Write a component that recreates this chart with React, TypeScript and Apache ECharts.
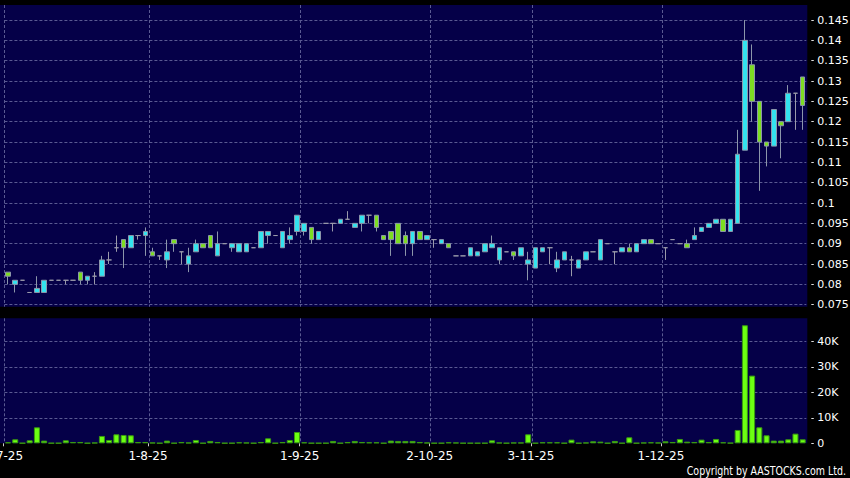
import React, { useEffect, useRef } from 'react';
import * as echarts from 'echarts';

// ---- data (one entry per traded session) ----
const openPx = [
  0.083, 0.080, 0.081, 0.078, 0.078, 0.078, 0.081, 0.081, 0.081, 0.081,
  0.083, 0.081, 0.082, 0.082, 0.086, 0.089, 0.091, 0.089, 0.092, 0.092,
  0.088, 0.087, 0.086, 0.091, 0.088, 0.085, 0.088, 0.090, 0.092, 0.087,
  0.090, 0.089, 0.088, 0.088, 0.089, 0.089, 0.092, 0.092, 0.089, 0.091,
  0.093, 0.093, 0.094, 0.091, 0.095, 0.095, 0.095, 0.096, 0.094, 0.095,
  0.097, 0.097, 0.092, 0.093, 0.095, 0.092, 0.090, 0.093, 0.091, 0.091,
  0.090, 0.090, 0.087, 0.087, 0.087, 0.087, 0.088, 0.089, 0.086, 0.088,
  0.088, 0.087, 0.085, 0.084, 0.088, 0.089, 0.084, 0.086, 0.086, 0.084,
  0.086, 0.088, 0.086, 0.090, 0.088, 0.088, 0.089, 0.088, 0.090, 0.091,
  0.090, 0.089, 0.091, 0.090, 0.090, 0.091, 0.093, 0.094, 0.095, 0.096,
  0.093, 0.095, 0.113, 0.134, 0.125, 0.115, 0.114, 0.120, 0.120, 0.127,
  0.131,
];
const closePx = [
  0.082, 0.081, 0.081, 0.078, 0.079, 0.081, 0.081, 0.081, 0.081, 0.081,
  0.081, 0.082, 0.082, 0.086, 0.086, 0.089, 0.089, 0.092, 0.092, 0.093,
  0.087, 0.087, 0.088, 0.090, 0.088, 0.087, 0.090, 0.089, 0.089, 0.090,
  0.090, 0.090, 0.090, 0.090, 0.089, 0.093, 0.093, 0.092, 0.093, 0.092,
  0.097, 0.095, 0.091, 0.093, 0.095, 0.095, 0.096, 0.096, 0.095, 0.097,
  0.097, 0.094, 0.091, 0.091, 0.090, 0.090, 0.093, 0.091, 0.092, 0.091,
  0.091, 0.089, 0.087, 0.087, 0.089, 0.088, 0.090, 0.090, 0.089, 0.088,
  0.087, 0.089, 0.086, 0.089, 0.089, 0.089, 0.086, 0.088, 0.086, 0.086,
  0.088, 0.088, 0.091, 0.090, 0.088, 0.089, 0.088, 0.090, 0.091, 0.090,
  0.090, 0.089, 0.091, 0.090, 0.089, 0.092, 0.094, 0.095, 0.096, 0.093,
  0.096, 0.112, 0.140, 0.125, 0.115, 0.114, 0.123, 0.119, 0.127, 0.127,
  0.124,
];
const lowPx = [
  0.080, 0.078, 0.081, 0.078, 0.078, 0.078, 0.081, 0.081, 0.080, 0.081,
  0.080, 0.080, 0.080, 0.082, 0.085, 0.088, 0.084, 0.089, 0.091, 0.087,
  0.087, 0.086, 0.084, 0.088, 0.085, 0.083, 0.088, 0.089, 0.089, 0.087,
  0.090, 0.088, 0.088, 0.088, 0.089, 0.089, 0.090, 0.092, 0.089, 0.090,
  0.092, 0.092, 0.090, 0.091, 0.095, 0.093, 0.095, 0.096, 0.094, 0.093,
  0.095, 0.093, 0.091, 0.087, 0.090, 0.087, 0.087, 0.091, 0.091, 0.089,
  0.090, 0.089, 0.087, 0.087, 0.087, 0.087, 0.088, 0.089, 0.085, 0.088,
  0.086, 0.087, 0.081, 0.084, 0.088, 0.085, 0.083, 0.086, 0.082, 0.084,
  0.086, 0.088, 0.086, 0.090, 0.085, 0.088, 0.088, 0.088, 0.090, 0.090,
  0.090, 0.086, 0.091, 0.090, 0.089, 0.091, 0.093, 0.094, 0.095, 0.093,
  0.093, 0.095, 0.113, 0.120, 0.103, 0.109, 0.114, 0.111, 0.120, 0.118,
  0.118,
];
const highPx = [
  0.083, 0.081, 0.081, 0.078, 0.082, 0.081, 0.081, 0.081, 0.081, 0.081,
  0.083, 0.082, 0.083, 0.087, 0.088, 0.092, 0.091, 0.092, 0.092, 0.094,
  0.089, 0.087, 0.091, 0.091, 0.088, 0.089, 0.091, 0.090, 0.092, 0.093,
  0.090, 0.090, 0.090, 0.090, 0.089, 0.093, 0.093, 0.092, 0.093, 0.094,
  0.097, 0.095, 0.094, 0.093, 0.095, 0.095, 0.096, 0.098, 0.095, 0.097,
  0.097, 0.097, 0.092, 0.093, 0.095, 0.093, 0.093, 0.093, 0.092, 0.091,
  0.091, 0.090, 0.087, 0.087, 0.089, 0.088, 0.090, 0.092, 0.089, 0.088,
  0.088, 0.089, 0.088, 0.089, 0.089, 0.089, 0.088, 0.088, 0.087, 0.086,
  0.088, 0.088, 0.091, 0.090, 0.088, 0.089, 0.090, 0.090, 0.091, 0.091,
  0.090, 0.089, 0.091, 0.090, 0.091, 0.094, 0.094, 0.095, 0.096, 0.096,
  0.096, 0.118, 0.145, 0.139, 0.125, 0.115, 0.123, 0.120, 0.129, 0.127,
  0.131,
];
const volume = [
  400, 1570, 100, 1180, 6270, 1050, 100, 100, 1180, 520,
  520, 100, 250, 2880, 1300, 3530, 3270, 3140, 520, 520,
  260, 100, 1050, 100, 520, 260, 1300, 100, 920, 520,
  100, 100, 400, 260, 100, 520, 1960, 100, 520, 1300,
  4440, 400, 100, 100, 100, 920, 100, 520, 920, 520,
  400, 400, 100, 1050, 920, 920, 920, 520, 260, 100,
  100, 400, 260, 100, 100, 100, 100, 1180, 260, 100,
  260, 260, 3530, 100, 400, 400, 400, 100, 1440, 100,
  260, 780, 650, 100, 920, 100, 2350, 100, 260, 400,
  260, 780, 520, 1700, 650, 520, 1440, 520, 1700, 400,
  150, 5230, 46270, 26540, 6270, 3140, 1050, 1050, 1570, 3790,
  1570,
];
// session index -> month label
const monthLabels: Record<number, string> = {
  0: '2-7-25',
  20: '1-8-25',
  41: '1-9-25',
  59: '2-10-25',
  73: '3-11-25',
  91: '1-12-25',
};
const sessions = openPx.map((_, i) => String(i));

const BG = '#050048';
const GRID_LINE = '#5a5a92';
const FONT = 'DejaVu Sans';

export default function App() {
  const ref = useRef<HTMLDivElement>(null);
  useEffect(() => {
    if (!ref.current) return;
    const chart = echarts.init(ref.current, null, { renderer: 'svg' });
    const isMonth = (idx: number) => monthLabels[idx] !== undefined;
    const candles = openPx.map((o, i) => [o, closePx[i], lowPx[i], highPx[i]]);
    const L = 4.4;
    const R = 850 - 806.3;
    const SHIFT = 4.5;
    const splitOnly = (gridIndex: number) => ({
      type: 'category', gridIndex, data: sessions, boundaryGap: true,
      axisLine: { show: false }, axisTick: { show: false }, axisLabel: { show: false },
      splitLine: { show: true, interval: (i: number) => isMonth(i), showMaxLine: false, lineStyle: { color: GRID_LINE, type: [3, 2], width: 1 } },
    });
    chart.setOption({
      animation: false,
      backgroundColor: '#000000',
      graphic: [
        { type: 'rect', z: -10, silent: true, shape: { x: 0, y: 5, width: 807.3, height: 301.7 }, style: { fill: BG } },
        { type: 'rect', z: -10, silent: true, shape: { x: 0, y: 318.3, width: 807.3, height: 125 }, style: { fill: BG } },
        {
          type: 'text', x: 846, y: 471, scaleX: 0.83, silent: true,
          style: { text: 'Copyright by AASTOCKS.com Ltd.', fill: '#ffffff', fontSize: 11.4, fontFamily: FONT, align: 'right', verticalAlign: 'middle' },
        },
      ],
      grid: [
        { left: L, right: R, top: 5, height: 301.7, outerBoundsMode: 'none', containLabel: false },
        { left: L, right: R, top: 318.3, height: 125, outerBoundsMode: 'none', containLabel: false },
        { left: L - SHIFT, right: R + SHIFT, top: 318.3, height: 125, outerBoundsMode: 'none', containLabel: false },
      ],
      xAxis: [
        splitOnly(0),
        {
          type: 'category', gridIndex: 1, data: sessions, boundaryGap: true,
          axisLine: { show: false }, axisTick: { show: false }, axisLabel: { show: false }, splitLine: { show: false },
        },
        splitOnly(1),
        {
          type: 'category', gridIndex: 2, data: sessions, boundaryGap: true,
          axisLine: { show: false },
          axisTick: { show: true, alignWithLabel: true, interval: (i: number) => isMonth(i), length: 3, lineStyle: { color: '#cccccc' } },
          axisLabel: {
            show: true, interval: (i: number) => isMonth(i), color: '#ffffff', fontSize: 12, fontFamily: FONT,
            margin: 7, hideOverlap: false,
            formatter: (_v: string, i: number) => monthLabels[i] ?? '',
          },
          splitLine: { show: false },
        },
      ],
      yAxis: [
        {
          type: 'value', gridIndex: 0, position: 'right', offset: 5,
          min: 0.0745, max: 0.1487, splitNumber: 15, minInterval: 0.005, maxInterval: 0.005,
          axisLine: { show: false },
          axisTick: { show: true, length: 2.5, lineStyle: { color: '#dddddd' } },
          axisLabel: { color: '#ffffff', fontSize: 11, fontFamily: FONT, margin: 6, showMinLabel: false, showMaxLabel: false },
          splitLine: { show: true, showMinLine: false, showMaxLine: false, lineStyle: { color: GRID_LINE, type: [3, 2], width: 1 } },
        },
        {
          type: 'value', gridIndex: 1, position: 'right', offset: 5,
          min: 0, max: 49000, splitNumber: 5, minInterval: 10000, maxInterval: 10000,
          axisLine: { show: false },
          axisTick: { show: true, length: 2.5, lineStyle: { color: '#dddddd' } },
          axisLabel: {
            color: '#ffffff', fontSize: 11, fontFamily: FONT, margin: 6, showMaxLabel: false,
            formatter: (v: number) => (v === 0 ? '0' : v / 1000 + 'K'),
          },
          splitLine: { show: true, showMinLine: false, showMaxLine: false, lineStyle: { color: GRID_LINE, type: [3, 2], width: 1 } },
        },
        {
          type: 'value', gridIndex: 2, show: false, min: 0, max: 1,
        },
      ],
      series: [
        {
          type: 'candlestick', xAxisIndex: 0, yAxisIndex: 0, data: candles, barWidth: 5,
          itemStyle: {
            color: '#33e3ef', color0: '#7ddc22',
            borderColor: '#8c96aa', borderColor0: '#8c96aa', borderColorDoji: '#9a9aaa', borderWidth: 1,
          },
        },
        {
          type: 'bar', xAxisIndex: 1, yAxisIndex: 1, data: volume, barWidth: 6,
          itemStyle: { color: '#6cff12', borderColor: '#3a9a10', borderWidth: 1 },
        },
      ],
    });
    return () => chart.dispose();
  }, []);
  return <div ref={ref} style={{ position: 'absolute', left: 0, top: 0, width: 850, height: 478, background: '#000' }} />;
}
